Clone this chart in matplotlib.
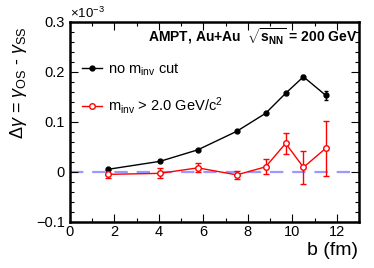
import matplotlib
matplotlib.use("Agg")
import matplotlib.pyplot as plt
from matplotlib.ticker import MultipleLocator, FuncFormatter
from matplotlib.lines import Line2D

plt.rcParams['font.family'] = ['Liberation Sans', 'DejaVu Sans']
plt.rcParams['mathtext.fontset'] = 'custom'
plt.rcParams['mathtext.rm'] = 'Liberation Sans'
plt.rcParams['mathtext.it'] = 'Liberation Sans:italic'
plt.rcParams['mathtext.bf'] = 'Liberation Sans:bold'

# data (units of 1e-3)
b = [1.7, 4.05, 5.75, 7.5, 8.8, 9.7, 10.5, 11.5]
nocut = [0.005, 0.021, 0.044, 0.081, 0.117, 0.157, 0.190, 0.153]
nocut_err = [0.002, 0.002, 0.002, 0.002, 0.002, 0.003, 0.004, 0.009]
cut = [-0.005, -0.003, 0.008, -0.006, 0.010, 0.057, 0.009, 0.047]
cut_err = [0.008, 0.010, 0.009, 0.008, 0.015, 0.021, 0.033, 0.055]

fig = plt.figure(figsize=(3.74, 2.68), dpi=100)
ax = fig.add_axes([0.187, 0.172, 0.773, 0.747])

ax.axhline(0, color='#9999ff', lw=1.6, ls=(0, (6, 4)), zorder=1)

ax.errorbar(b, nocut, yerr=nocut_err, color='black', lw=1, marker='o', ms=3.5,
            mfc='black', mec='black', capsize=1.5, elinewidth=1, zorder=3)
ax.errorbar(b, cut, yerr=cut_err, color='red', lw=1, marker='o', ms=4,
            mfc='white', mec='red', mew=1, capsize=2, elinewidth=1, zorder=3)

handles = [Line2D([], [], color='black', lw=1, marker='o', ms=3.5, mfc='black', mec='black'),
           Line2D([], [], color='red', lw=1, marker='o', ms=4, mfc='white', mec='red')]
labels = [r'no m$_{\rm inv}$ cut', r'm$_{\rm inv}$ > 2.0 GeV/c$^{2}$']

ax.set_xlim(0, 13)
ax.set_ylim(-0.1, 0.3)
ax.xaxis.set_major_locator(MultipleLocator(2))
ax.xaxis.set_minor_locator(MultipleLocator(1))
ax.yaxis.set_major_locator(MultipleLocator(0.1))
ax.yaxis.set_minor_locator(MultipleLocator(0.02))

def yfmt(v, p):
    if abs(v) < 1e-9:
        return '0'
    return ('%.1f' % v).replace('-', '\u2212')
ax.yaxis.set_major_formatter(FuncFormatter(yfmt))
ax.xaxis.set_major_formatter(FuncFormatter(lambda v, p: '%d' % round(v)))

ax.tick_params(which='both', direction='in', top=True, right=True, labelsize=10.5, width=0.8)
ax.tick_params(which='major', length=6)
ax.tick_params(which='minor', length=3)
ax.tick_params(axis='x', pad=2)
for s in ax.spines.values():
    s.set_linewidth(1.8)

ax.text(0.0, 1.005, r'$\times$10$^{-3}$', transform=ax.transAxes, fontsize=9.5, ha='left', va='bottom')
ax.text(0.995, 0.925, r'AMPT, Au+Au  $\sqrt{\mathbf{s}_{\mathbf{NN}}}$ = 200 GeV', transform=ax.transAxes,
        fontsize=10, fontweight='bold', ha='right', va='center')

fig.text(0.05, 0.69, r'$\Delta\gamma$ = $\gamma_{\rm OS}$ - $\gamma_{\rm SS}$', rotation=90,
         fontsize=13, ha='center', va='center')
fig.text(0.957, 0.065, 'b (fm)', fontsize=14, ha='right', va='center')

leg = ax.legend(handles, labels, loc='upper left', bbox_to_anchor=(0.02, 0.83), frameon=False, fontsize=10.5,
                handlelength=1.4, handletextpad=0.4, labelspacing=1.2, borderaxespad=0)

fig.savefig('out.png', dpi=100)
